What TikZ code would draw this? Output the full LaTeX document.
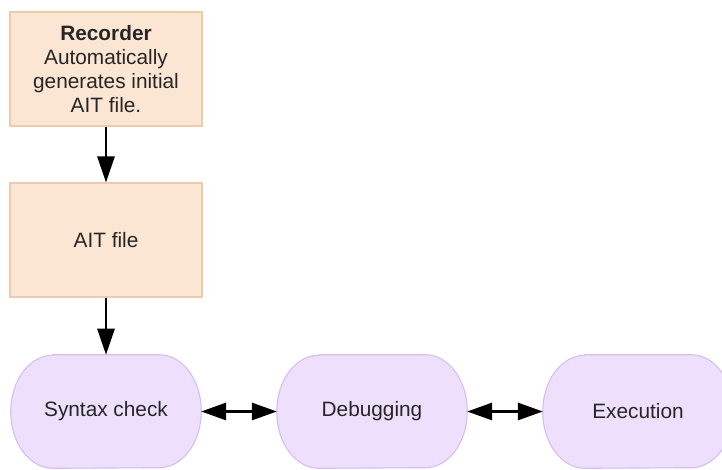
\documentclass[tikz,border=0pt]{standalone}
\usepackage{fontspec}
\setmainfont{Liberation Sans}
\usetikzlibrary{arrows.meta,backgrounds}

\definecolor{boxfill}{HTML}{FBE5D3}
\definecolor{boxline}{HTML}{EFCBAE}
\definecolor{ovalfill}{HTML}{EEE0FC}
\definecolor{ovalline}{HTML}{D6BFF0}
\definecolor{txt}{HTML}{262626}

\tikzset{
  filebox/.style={draw=boxline, fill=boxfill, line width=0.8pt,
    minimum width=4.8cm, minimum height=2.85cm, align=center,
    text=txt, font=\fontsize{14.8}{16.9}\selectfont},
  stage/.style={minimum width=4.75cm, minimum height=2.825cm,
    text=txt, font=\fontsize{14.8}{16.9}\selectfont},
  stageline/.style={draw=ovalline, fill=ovalfill, line width=0.8pt},
  flow/.style={line width=1.5pt, -{Triangle[length=0.65cm, width=0.43cm]}},
  twoway/.style={line width=1.5pt,
    {Triangle[length=0.62cm, width=0.43cm]}-{Triangle[length=0.62cm, width=0.43cm]}}
}

% Parameters of the oval outline
\def\rx{1.05}    % corner x radius
\def\ry{1.4125}  % corner y radius

\begin{document}
\begin{tikzpicture}

% Canvas
\useasboundingbox (0,0) rectangle (18.05,11.725);

% Files
\node[filebox] (recorder) at (2.65,10.0)
  {\textbf{Recorder}\\Automatically\\generates initial\\AIT file.};
\node[filebox] (aitfile) at (2.65,5.725) {AIT file};

% Stages
\node[stage] (syntax) at (2.65,1.4375) {Syntax check};
\node[stage] (debug) at (9.3,1.4375) {Debugging};
\node[stage] (exec) at (15.95,1.4375) {Execution};

% Oval outlines behind the stage texts
\begin{scope}[on background layer]
\foreach \n in {syntax,debug,exec}
  \draw[stageline] ([xshift=\rx cm]\n.north west) -- ([xshift=-\rx cm]\n.north east)
    arc[start angle=90, end angle=0, x radius=\rx, y radius=\ry]
    arc[start angle=0, end angle=-90, x radius=\rx, y radius=\ry]
    -- ([xshift=\rx cm]\n.south west)
    arc[start angle=270, end angle=180, x radius=\rx, y radius=\ry]
    arc[start angle=180, end angle=90, x radius=\rx, y radius=\ry]
    -- cycle;
\end{scope}

% Arrows
\draw[flow] (recorder) -- (aitfile);
\draw[flow] (aitfile) -- (syntax);
\draw[twoway] (syntax) -- (debug);
\draw[twoway] (debug) -- (exec);

\end{tikzpicture}
\end{document}
